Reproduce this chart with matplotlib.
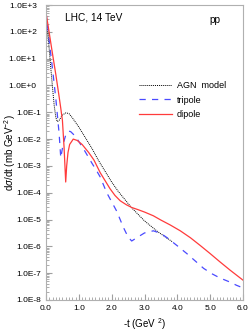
"""Elastic pp differential cross section at LHC, 14 TeV."""

import matplotlib
matplotlib.use("Agg")
import matplotlib.pyplot as plt
import numpy as np
from matplotlib.ticker import FuncFormatter, MultipleLocator, LogLocator

# log10(dsigma/dt), -t in GeV^2
agn_t = [0.0, 0.05, 0.1, 0.15, 0.2, 0.25, 0.3, 0.345, 0.4, 0.5, 0.61, 0.7, 0.8, 1.0,
         1.2, 1.4, 1.6, 1.8, 2.0, 2.2, 2.4, 2.6, 2.8, 3.0, 3.2, 3.4, 3.6, 3.85]
agn_log = [2.75, 2.05, 1.32, 0.6, -0.1, -0.75, -1.2, -1.35, -1.3, -1.1, -1.02, -1.05,
           -1.2, -1.55, -1.95, -2.35, -2.8, -3.2, -3.6, -3.95, -4.25, -4.55, -4.8,
           -5.05, -5.25, -5.45, -5.62, -5.83]

tri_t = [0.0, 0.13, 0.2, 0.3, 0.4, 0.45, 0.52, 0.6, 0.68, 0.75, 0.9, 1.16, 1.4, 1.56,
         1.65, 1.85, 2.15, 2.36, 2.5, 2.61, 2.8, 3.0, 3.27, 3.5, 3.68, 4.0, 4.29, 4.55,
         4.8, 5.05, 5.3, 5.6, 5.8, 6.0]
tri_log = [2.72, 1.32, 0.6, -0.5, -1.8, -2.7, -2.2, -1.85, -1.7, -1.72, -1.9, -2.4,
           -2.9, -3.22, -3.41, -4.0, -4.68, -5.3, -5.65, -5.8, -5.65, -5.5, -5.42,
           -5.52, -5.67, -5.98, -6.27, -6.55, -6.82, -7.02, -7.18, -7.33, -7.45, -7.55]

dip_t = [0.0, 0.1, 0.18, 0.3, 0.4, 0.45, 0.5, 0.55, 0.6, 0.63, 0.67, 0.72, 0.83, 0.95,
         1.1, 1.3, 1.46, 1.65, 1.8, 1.95, 2.1, 2.26, 2.45, 2.61, 2.8, 3.0, 3.27, 3.5,
         3.78, 4.09, 4.4, 4.7, 5.0, 5.3, 5.61, 6.0]
dip_log = [2.72, 1.95, 1.32, 0.4, -0.42, -0.85, -1.3, -2.3, -3.6, -3.0, -2.5, -2.2,
           -2.0, -2.05, -2.2, -2.5, -2.78, -3.25, -3.55, -3.85, -4.1, -4.3, -4.45,
           -4.55, -4.63, -4.72, -4.86, -5.02, -5.2, -5.42, -5.68, -5.97, -6.27, -6.58,
           -6.89, -7.26]

plt.rcParams["font.family"] = "Liberation Sans"
plt.rcParams["mathtext.fontset"] = "custom"
plt.rcParams["mathtext.rm"] = "Liberation Sans"
plt.rcParams["mathtext.it"] = "Liberation Sans:italic"


def ylabel_fmt(v, pos):
    e = int(round(np.log10(v)))
    # the positive exponents sit a bit further left in the reference
    return f"1.0E{e:+d}" + ("  " if e >= 0 else "")


fig = plt.figure(figsize=(2.5, 3.35), dpi=100)
ax = fig.add_axes([0.184, 0.1045, 0.788, 0.8805])

ax.plot(agn_t, 10 ** np.array(agn_log), color="black", ls=(0, (1, 1)), lw=0.7,
        label="AGN  model")
ax.plot(tri_t, 10 ** np.array(tri_log), color="#4a4aff", ls=(0, (5, 5)), lw=0.9,
        label="tripole")
ax.plot(dip_t, 10 ** np.array(dip_log), color="#ff3b3b", lw=0.9, label="dipole")

ax.set_yscale("log")
ax.set_xlim(0, 6)
ax.set_ylim(1e-8, 1e3)
ax.xaxis.set_major_locator(MultipleLocator(1))
ax.xaxis.set_minor_locator(MultipleLocator(0.1))
ax.xaxis.set_major_formatter(FuncFormatter(lambda v, p: f"{v:.1f}"))
ax.yaxis.set_major_locator(LogLocator(base=10, numticks=20))
ax.yaxis.set_minor_locator(LogLocator(base=10, subs=np.arange(2, 10), numticks=20))
ax.yaxis.set_major_formatter(FuncFormatter(ylabel_fmt))

for s in ax.spines.values():
    s.set_color("#b0b0b0")
    s.set_linewidth(0.8)
ax.tick_params(which="both", direction="in", color="#a0a0a0", labelsize=6,
               top=False, right=False)
ax.tick_params(which="major", length=4)
ax.tick_params(which="minor", length=2)

ax.set_xlabel("-t (GeV $^{2}$)", fontsize=7, labelpad=3)
ax.set_ylabel(r"d$\sigma$/dt (mb GeV$^{-2}$)", fontsize=7)
ax.yaxis.set_label_coords(-0.14, 0.5)

ax.text(0.095, 0.975, "LHC, 14 TeV", transform=ax.transAxes, fontsize=7.3, va="top")
ax.text(0.83, 0.95, "pp", transform=ax.transAxes, fontsize=7.3, va="center")

ax.legend(loc="upper left", bbox_to_anchor=(0.45, 0.757), frameon=False, fontsize=6.5,
          handlelength=3.6, handletextpad=0.6, labelspacing=0.6, borderpad=0)

fig.savefig("out.png", dpi=100)
